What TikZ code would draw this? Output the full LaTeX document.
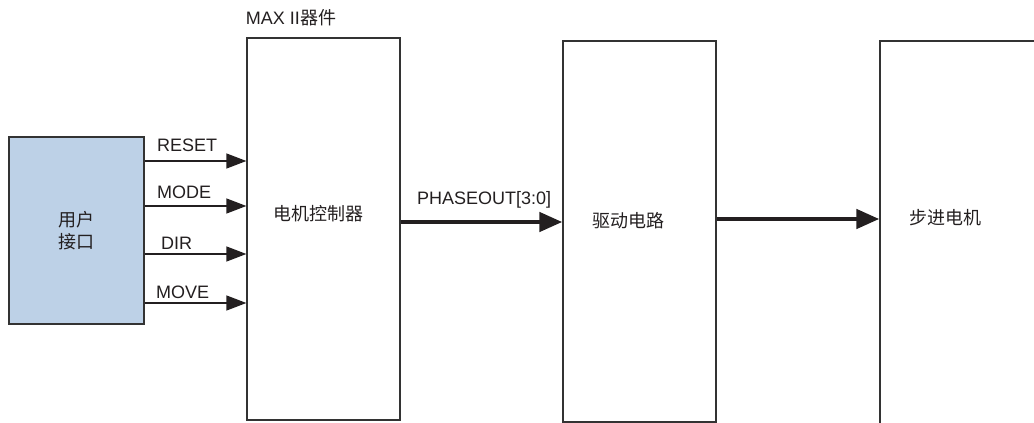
\documentclass[tikz,border=0pt]{standalone}
\usepackage{fontspec}
\setmainfont{Liberation Sans}
\newfontfamily\cjk{Noto Sans CJK SC}
\usetikzlibrary{arrows.meta}
\definecolor{ink}{HTML}{231F20}
\definecolor{edge}{HTML}{333333}
\definecolor{ublue}{HTML}{BDD1E7}
\begin{document}
\begin{tikzpicture}[x=1pt,y=-1pt,
  every node/.style={text=ink,font=\fontsize{18}{20}\selectfont},
  blockbox/.style={draw=edge,line width=1.3pt,rectangle,inner sep=0pt},
  thinarr/.style={draw=ink,line width=1.3pt,-{Triangle[length=20pt,width=15pt]}},
  thickarr/.style={draw=ink,line width=4.5pt,-{Triangle[length=23pt,width=19pt]}},
  lbl/.style={anchor=west,inner sep=0pt}]
\useasboundingbox (0,0) rectangle (1034,423);
\clip (0,0) rectangle (1034,423);
\node[blockbox,fill=ublue,minimum width=135pt,minimum height=187pt,align=center] (user) at (76.5,230.5) {\cjk 用户\\[2pt]\cjk 接口};
\node[blockbox,minimum width=153pt,minimum height=382pt] (ctrl) at (323.5,229) {};
\node[blockbox,minimum width=153pt,minimum height=381pt] (drv) at (639.5,231.5) {};
\node[blockbox,minimum width=240pt,minimum height=480pt] (mot) at (1000,281) {};
\node[inner sep=0pt] (maxlbl) at (291,18) {MAX II\cjk 器件};
\node[inner sep=0pt] (ctrllbl) at (318,214) {\cjk 电机控制器};
\node[inner sep=0pt] (drvlbl) at (628,221) {\cjk 驱动电路};
\node[inner sep=0pt] (motlbl) at (945,218) {\cjk 步进电机};
\draw[thinarr] (user.east |- 0,161) -- (ctrl.west |- 0,161);
\draw[thinarr] (user.east |- 0,206) -- (ctrl.west |- 0,206);
\draw[thinarr] (user.east |- 0,254) -- (ctrl.west |- 0,254);
\draw[thinarr] (user.east |- 0,303) -- (ctrl.west |- 0,303);
\node[lbl] (lreset) at (157,145) {RESET};
\node[lbl] (lmode) at (157,192) {MODE};
\node[lbl] (ldir) at (161,243) {DIR};
\node[lbl] (lmove) at (156,292) {MOVE};
\draw[thickarr] (ctrl.east |- 0,222) -- (drv.west |- 0,222);
\node[lbl] (lphase) at (417,200) {PHASEOUT[3:0]};
\draw[thickarr] (drv.east |- 0,219) -- (mot.west |- 0,219);
\end{tikzpicture}
\end{document}
